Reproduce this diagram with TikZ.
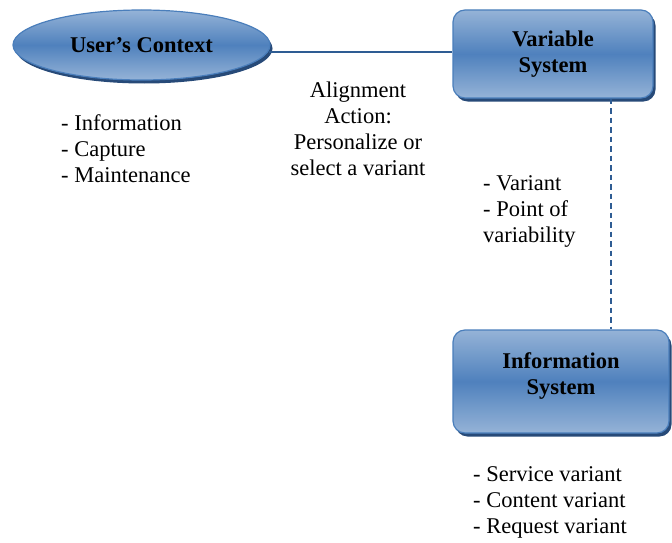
\documentclass[tikz,border=0pt]{standalone}
\usepackage{fontspec}
\setmainfont{Liberation Serif}
\usetikzlibrary{shadows,calc,shapes.geometric}
\definecolor{boxtop}{HTML}{95B3D7}
\definecolor{boxmid}{HTML}{4F81BD}
\definecolor{boxedge}{HTML}{4A7EBB}
\definecolor{shadowblue}{HTML}{274A78}
\definecolor{linkblue}{HTML}{2E5C93}
\begin{document}
\begin{tikzpicture}[x=1pt,y=-1pt,
  txt/.style={font=\rmfamily\fontsize{22.5}{26}\selectfont, inner sep=0pt},
  blob/.style={draw=boxedge, line width=1.2pt,
    top color=boxtop, bottom color=boxtop, middle color=boxmid,
    drop shadow={shadow xshift=2.5pt, shadow yshift=-3.5pt, fill=shadowblue, opacity=1},
    font=\rmfamily\bfseries\fontsize{22.5}{26}\selectfont, align=center, inner sep=0pt},
  ellblob/.style={blob, ellipse, minimum width=257pt, minimum height=70pt},
  boxblob/.style={blob, rectangle, rounded corners=12pt},
  link/.style={draw=linkblue, line width=1.4pt},
  dlink/.style={draw=linkblue, line width=2pt, dash pattern=on 5.5pt off 4pt}]
\useasboundingbox (0,0) rectangle (672,543);

\node[ellblob] (uc) at (141.5,45) {User's Context};
\node[boxblob, minimum width=200pt, minimum height=88pt] (vs) at (553,54) {Variable\\System};
\node[boxblob, minimum width=216pt, minimum height=103pt, text depth=16pt] (is) at (561,381.5) {Information\\System};

\coordinate (ucr) at ($(uc.east)+(-2,7)$);
\draw[link] (ucr) -- (ucr -| vs.west);
\coordinate (vsb) at ($(vs.south west)+(159,0)$);
\coordinate (ist) at ($(is.north west)+(159,0)$);
\draw[dlink] (vsb) -- (ist);

\node[txt, align=center, anchor=north] (al) at (358,82) {Alignment\\Action:\\Personalize or\\select a variant};
\node[txt, align=left, anchor=north west] (ul) at (61,114) {- Information\\- Capture\\- Maintenance};
\node[txt, align=left, anchor=north west] (vl) at (483,175) {- Variant\\- Point of\\variability};
\node[txt, align=left, anchor=north west] (il) at (473,466) {- Service variant\\- Content variant\\- Request variant};
\end{tikzpicture}
\end{document}
